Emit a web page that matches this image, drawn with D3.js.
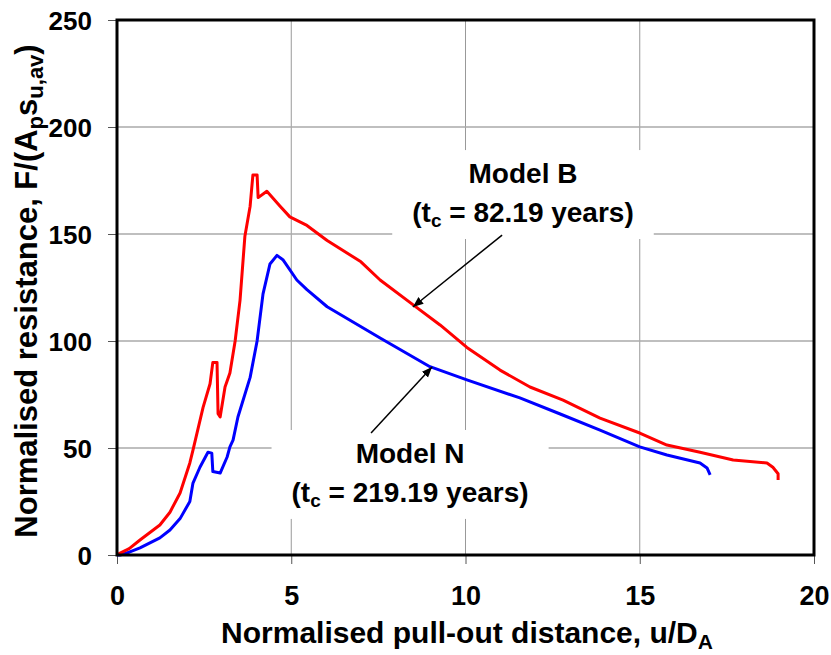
<!DOCTYPE html>
<html>
<head>
<meta charset="utf-8">
<script src="https://cdn.jsdelivr.net/npm/d3@7"></script>
<style>
  body { margin: 0; background: #fff; }
  text { font-family: "Liberation Sans", Arial, sans-serif; font-weight: bold; }
</style>
</head>
<body>
<svg id="chart" width="831" height="655"></svg>
<script>
// Model B (red) - u/D_A vs F/(Ap su,av)
var uB = [0, 0.09, 0.35, 0.66, 1.23, 1.52, 1.81, 2.09, 2.18, 2.47, 2.67, 2.75, 2.87, 2.9, 2.96, 3.1, 3.24, 3.39, 3.53, 3.67, 3.82, 3.9, 4.02, 4.05, 4.3, 4.68, 4.96, 5.45, 6.03, 7.0, 7.55, 8.49, 9.27, 10.04, 10.99, 11.85, 12.8, 13.86, 15.0, 15.78, 16.73, 17.68, 18.65, 18.82, 18.97, 18.97];
var FB = [0, 0.9, 3, 7, 14, 20, 29, 43, 49, 69, 80, 90, 90, 66, 64.5, 78.5, 85, 100, 119, 149, 163, 177.6, 177.6, 167, 170, 163, 158, 154, 147, 137, 128.5, 117, 107.5, 97, 86.4, 78.5, 72.4, 64, 57, 51.4, 48, 44.4, 43, 41, 38, 35];

// Model N (blue)
var uN = [0, 0.09, 0.35, 0.66, 1.23, 1.52, 1.81, 2.09, 2.18, 2.38, 2.61, 2.72, 2.75, 2.96, 3.16, 3.24, 3.33, 3.47, 3.82, 4.02, 4.19, 4.39, 4.59, 4.76, 5.16, 5.45, 6.03, 7.55, 8.98, 10.04, 11.56, 12.7, 13.86, 15.0, 15.78, 16.73, 16.93, 17.02];
var FN = [0, 0, 1.3, 3.3, 8, 11.7, 17, 25, 33.6, 41, 48, 47.6, 39, 38.3, 45.8, 50.5, 53.7, 64.5, 83, 100, 122, 136, 140, 138, 128.5, 124, 116, 101.4, 88, 81.8, 73.4, 66, 58.4, 50.5, 46.7, 43, 40.7, 37.4];

var xTicks = [0, 5, 10, 15, 20];
var yTicks = [0, 50, 100, 150, 200, 250];

var svg = d3.select("#chart");
var mLeft = 117, mTop = 20, w = 697, h = 535;

var x = d3.scaleLinear().domain([0, 20]).range([mLeft, mLeft + w]);
var y = d3.scaleLinear().domain([0, 250]).range([mTop + h, mTop]);

// grid
svg.append("g").selectAll("line")
  .data(xTicks.slice(1, -1)).enter().append("line")
  .attr("x1", function(d) { return x(d); }).attr("x2", function(d) { return x(d); })
  .attr("y1", y(0)).attr("y2", y(250))
  .attr("stroke", "#999").attr("stroke-width", 1);
svg.append("g").selectAll("line")
  .data(yTicks.slice(1, -1)).enter().append("line")
  .attr("y1", function(d) { return y(d); }).attr("y2", function(d) { return y(d); })
  .attr("x1", x(0)).attr("x2", x(20))
  .attr("stroke", "#aaa").attr("stroke-width", 1.5);

// axes
var xAxis = d3.axisBottom(x).tickValues(xTicks).tickSize(9).tickPadding(22);
var yAxis = d3.axisLeft(y).tickValues(yTicks).tickSize(9).tickPadding(16);

var gx = svg.append("g").attr("transform", "translate(0," + y(0) + ")").call(xAxis);
var gy = svg.append("g").attr("transform", "translate(" + x(0) + ",0)").call(yAxis);
[gx, gy].forEach(function(g) {
  g.select(".domain").remove();
  g.selectAll(".tick line").attr("stroke", "#555");
  g.selectAll(".tick text").attr("fill", "#000")
    .style("font-family", "'Liberation Sans', Arial, sans-serif")
    .style("font-weight", "bold");
});
gx.selectAll(".tick text").style("font-size", "27px");
gy.selectAll(".tick text").style("font-size", "26px").attr("dy", "0.36em");

// curves
var line = d3.line().x(function(d) { return x(d[0]); }).y(function(d) { return y(d[1]); });
var ptsB = uB.map(function(u, i) { return [u, FB[i]]; });
var ptsN = uN.map(function(u, i) { return [u, FN[i]]; });

// annotation boxes hide grid lines behind text
function label(cx, l1, l2, lines) {
  var g = svg.append("g");
  var t1 = g.append("text").attr("x", x(cx)).attr("y", y(l1)).attr("text-anchor", "middle")
    .style("font-size", "28px").text(lines[0]);
  var t2 = g.append("text").attr("x", x(cx)).attr("y", y(l2)).attr("text-anchor", "middle")
    .style("font-size", "28px");
  t2.append("tspan").text("(t");
  t2.append("tspan").attr("dy", 5).style("font-size", "19px").text("c");
  t2.append("tspan").attr("dy", -5).text(" = " + lines[1] + " years)");
  var b1 = t1.node().getBBox(), b2 = t2.node().getBBox();
  var x0 = Math.min(b1.x, b2.x) - 20, x1 = Math.max(b1.x + b1.width, b2.x + b2.width) + 20;
  g.insert("rect", "text").attr("x", x0).attr("y", b1.y - 8)
    .attr("width", x1 - x0).attr("height", b2.y + b2.height - b1.y + 16)
    .attr("fill", "#fff");
}
label(11.65, 173.8, 155.6, ["Model B", "82.19"]);
label(8.41, 43, 24.8, ["Model N", "219.19"]);

svg.append("path").datum(ptsN).attr("d", line)
  .attr("fill", "none").attr("stroke", "#0000ff").attr("stroke-width", 3).attr("stroke-linejoin", "round");
svg.append("path").datum(ptsB).attr("d", line)
  .attr("fill", "none").attr("stroke", "#ff0000").attr("stroke-width", 3).attr("stroke-linejoin", "round");

// arrows
svg.append("defs").append("marker")
  .attr("id", "ah").attr("viewBox", "0 0 10 10").attr("refX", 10).attr("refY", 5)
  .attr("markerWidth", 7).attr("markerHeight", 7).attr("orient", "auto")
  .append("path").attr("d", "M0,1 L10,5 L0,9 Z").attr("fill", "#000");
var arrows = [[11.05, 149.5, 8.49, 115.9], [7.29, 57, 9.04, 87.9]];
svg.append("g").selectAll("line").data(arrows).enter().append("line")
  .attr("x1", function(d) { return x(d[0]); }).attr("y1", function(d) { return y(d[1]); })
  .attr("x2", function(d) { return x(d[2]); }).attr("y2", function(d) { return y(d[3]); })
  .attr("stroke", "#000").attr("stroke-width", 1.5).attr("marker-end", "url(#ah)");

// frame
svg.append("rect").attr("x", mLeft).attr("y", mTop).attr("width", w).attr("height", h)
  .attr("fill", "none").attr("stroke", "#000").attr("stroke-width", 3);

// axis titles
var xt = svg.append("text").attr("x", 467).attr("y", 643).attr("text-anchor", "middle")
  .style("font-size", "30px");
xt.append("tspan").text("Normalised pull-out distance, u/D");
xt.append("tspan").attr("dy", 6).style("font-size", "21px").text("A");

var yt = svg.append("text").attr("transform", "translate(37,291) rotate(-90)")
  .attr("text-anchor", "middle").style("font-size", "31px");
yt.append("tspan").text("Normalised resistance, F/(A");
yt.append("tspan").attr("dy", 6).style("font-size", "22px").text("p");
yt.append("tspan").attr("dy", -6).text("s");
yt.append("tspan").attr("dy", 6).style("font-size", "22px").text("u,av");
yt.append("tspan").attr("dy", -6).text(")");
</script>
</body>
</html>
